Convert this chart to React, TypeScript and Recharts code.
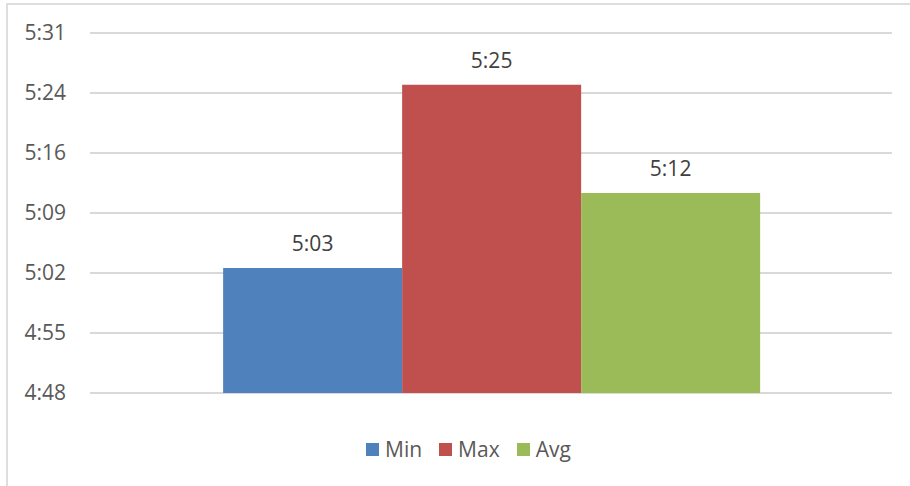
import React from 'react';
import { BarChart, Bar, XAxis, YAxis, CartesianGrid, Legend, LabelList } from 'recharts';

// Pace summary: one group with three series, times shown as h:mm
const categories = [''];
const seriesNames = ['Min', 'Max', 'Avg'];
const minTimes = ['5:03'];
const maxTimes = ['5:25'];
const avgTimes = ['5:12'];
const seriesColors = ['#4f81bd', '#c0504d', '#9bbb59'];
// Axis ticks in minutes (4:48 .. 5:31, step 7.2 min)
const yTicks = [288, 295.2, 302.4, 309.6, 316.8, 324, 331.2];

const FONT = '"Open Sans", "Liberation Sans", sans-serif';

const toMinutes = (s: string): number => {
  const [h, m] = s.split(':').map(Number);
  return h * 60 + m;
};

const formatTime = (v: number): string => {
  const t = Math.floor(v + 1e-6);
  return `${Math.floor(t / 60)}:${String(t % 60).padStart(2, '0')}`;
};

const seriesTimes = [minTimes, maxTimes, avgTimes];

const rows = categories.map((name, i) => {
  const row: Record<string, string | number> = { name };
  seriesNames.forEach((s, k) => {
    row[s] = toMinutes(seriesTimes[k][i]);
  });
  return row;
});

const renderLegend = (props: any) => {
  const payload = [...(props.payload || [])].sort(
    (a: any, b: any) => seriesNames.indexOf(a.value) - seriesNames.indexOf(b.value)
  );
  return (
    <div
      style={{
        display: 'flex',
        alignItems: 'center',
        fontFamily: FONT,
        fontSize: 21,
        lineHeight: '28px',
        color: '#595959',
        whiteSpace: 'nowrap',
      }}
    >
      {payload.map((entry: any) => (
        <div key={entry.value} style={{ display: 'flex', alignItems: 'center', marginRight: 17 }}>
          <span
            style={{
              display: 'inline-block',
              width: 13,
              height: 13,
              background: entry.color,
              marginRight: 6,
            }}
          />
          <span>{entry.value}</span>
        </div>
      ))}
    </div>
  );
};

export default function App() {
  return (
    <div
      style={{
        position: 'fixed',
        left: 0,
        top: 0,
        width: 910,
        height: 486,
        overflow: 'hidden',
        background: '#ffffff',
      }}
    >
      <div
        style={{
          position: 'absolute',
          left: 6,
          top: 3,
          width: 1000,
          height: 1000,
          border: '2px solid #dedede',
          boxSizing: 'border-box',
        }}
      />
      <div style={{ position: 'absolute', left: 0, top: 0 }}>
        <BarChart
          width={910}
          height={486}
          data={rows}
          margin={{ top: 33, right: 18, bottom: 93, left: 0 }}
          barCategoryGap="16.6%"
          barGap={0}
        >
          <CartesianGrid vertical={false} stroke="#d9d9d9" strokeWidth={2} />
          <XAxis dataKey="name" hide />
          <YAxis
            type="number"
            width={90}
            domain={[yTicks[0], yTicks[yTicks.length - 1]]}
            ticks={yTicks}
            interval={0}
            tickFormatter={formatTime}
            axisLine={false}
            tickLine={false}
            tickSize={0}
            tickMargin={24}
            tick={{ fill: '#595959', fontSize: 21, fontFamily: FONT }}
          />
          <Legend
            verticalAlign="middle"
            align="center"
            layout="horizontal"
            content={renderLegend}
            wrapperStyle={{ left: 366, top: 435, width: 'auto' }}
          />
          {seriesNames.map((s, k) => (
            <Bar key={s} dataKey={s} fill={seriesColors[k]} isAnimationActive={false}>
              <LabelList
                dataKey={s}
                position="top"
                offset={17}
                formatter={(v: any) => formatTime(Number(v))}
                style={{ fill: '#404040', fontSize: 21, fontFamily: FONT }}
              />
            </Bar>
          ))}
        </BarChart>
      </div>
    </div>
  );
}
